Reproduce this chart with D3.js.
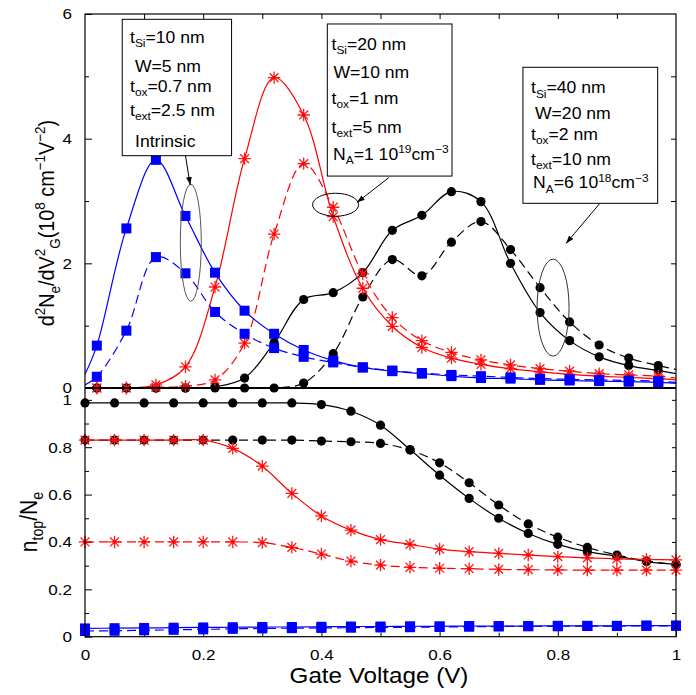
<!DOCTYPE html>
<html><head><meta charset="utf-8">
<script src="https://cdn.jsdelivr.net/npm/d3@7"></script>
<style>body{margin:0;background:#fff}svg{display:block}text{font-family:"Liberation Sans",Arial,Helvetica,sans-serif;fill:#000}</style>
</head><body><svg id="c" width="696" height="695"></svg>
<script>
// ---- data ----
const xTop = [0.02,0.07,0.12,0.17,0.22,0.27,0.32,0.37,0.42,0.47,0.52,0.57,0.62,0.67,0.72,0.77,0.82,0.87,0.92,0.97];
const xBottom = [0,0.05,0.1,0.15,0.2,0.25,0.3,0.35,0.4,0.45,0.5,0.55,0.6,0.65,0.7,0.75,0.8,0.85,0.9,0.95,1];

const topBlueSolid  = [0.68,2.56,3.66,2.76,1.85,1.24,0.87,0.61,0.44,0.33,0.27,0.23,0.19,0.16,0.15,0.13,0.12,0.11,0.10,0.09];
const topBlueDashed = [0.18,0.92,2.10,1.84,1.22,0.87,0.64,0.50,0.41,0.33,0.28,0.24,0.21,0.19,0.17,0.15,0.14,0.13,0.12,0.11];
const topRedSolid   = [0,0,0.05,0.34,1.62,3.68,4.98,4.38,2.75,1.60,0.99,0.65,0.48,0.38,0.31,0.26,0.22,0.19,0.17,0.15];
const topRedDashed  = [0,0,0.01,0.03,0.13,0.72,2.47,3.60,2.90,1.83,1.13,0.76,0.57,0.45,0.37,0.31,0.27,0.23,0.21,0.19];
const topBlackSolid = [0,0,0,0,0.02,0.16,0.73,1.42,1.53,1.85,2.53,2.77,3.15,2.99,2.00,1.21,0.76,0.50,0.36,0.28];
const topBlackDashed= [0,0,0,0,0,0,0,0.08,0.55,1.46,2.06,1.80,2.34,2.67,2.22,1.61,1.06,0.69,0.48,0.36];
// curve values at the panel edges (x=0, x=1) for the top-panel curves
const topEdgeAt0 = [0.22,0.05,0,0,0,0];
const topEdgeAt1 = [0.075,0.09,0.13,0.16,0.23,0.30];

const botBlueSolid  = [0.035,0.036,0.037,0.038,0.039,0.040,0.041,0.041,0.042,0.043,0.043,0.044,0.044,0.045,0.045,0.045,0.046,0.046,0.046,0.047,0.047];
const botBlueDashed = [0.024,0.025,0.027,0.029,0.031,0.033,0.035,0.036,0.037,0.038,0.039,0.040,0.041,0.042,0.043,0.044,0.044,0.045,0.045,0.046,0.046];
const botRedSolid   = [0.83,0.83,0.83,0.83,0.83,0.795,0.72,0.605,0.51,0.45,0.41,0.39,0.37,0.359,0.352,0.345,0.338,0.333,0.329,0.326,0.324];
const botRedDashed  = [0.40,0.40,0.40,0.40,0.40,0.40,0.397,0.377,0.349,0.319,0.302,0.293,0.289,0.287,0.284,0.283,0.282,0.281,0.281,0.281,0.281];
const botBlackSolid = [0.987,0.987,0.987,0.987,0.987,0.987,0.987,0.987,0.98,0.952,0.893,0.79,0.682,0.584,0.50,0.436,0.39,0.359,0.34,0.317,0.305];
const botBlackDashed= [0.83,0.83,0.83,0.83,0.83,0.83,0.83,0.83,0.826,0.823,0.816,0.788,0.734,0.65,0.556,0.476,0.42,0.377,0.345,0.32,0.305];

const topYTicks = [0,2,4,6];
const botYTicks = [0,0.2,0.4,0.6,0.8,1];
const xTicks = [0,0.2,0.4,0.6,0.8,1];

// ---- setup ----
const svg = d3.select('#c');
const SX = 1.1;
const L = 85, R = 676, T = 14, MID = 388, B = 636.7;
const x = d3.scaleLinear([0,1],[L,R]);
const yTop = d3.scaleLinear([0,6],[MID,T]);
const yBot = d3.scaleLinear([0,1.05],[B,MID]);

const defs = svg.append('defs');
defs.append('clipPath').attr('id','clipTop').append('rect').attr('x',L).attr('y',T).attr('width',R-L).attr('height',MID-T);
defs.append('clipPath').attr('id','clipBot').append('rect').attr('x',L).attr('y',MID).attr('width',R-L).attr('height',B-MID);
defs.append('marker').attr('id','arr').attr('viewBox','0 0 10 10').attr('refX',10).attr('refY',5)
  .attr('markerWidth',8).attr('markerHeight',8).attr('markerUnits','userSpaceOnUse').attr('orient','auto')
  .append('path').attr('d','M0,1.5L10,5L0,8.5Z').attr('fill','#000');

const colors = {blue:'#0000ff', red:'#ff0000', black:'#000000'};
const curve = d3.curveCatmullRom.alpha(0.5);

// ---- axes ----
function ax(axis, tr){
  const g = svg.append('g').attr('transform',tr).call(axis);
  g.select('.domain').remove();
  g.selectAll('line').attr('stroke','#000').attr('stroke-width',1);
  g.selectAll('text').attr('font-size',15.5).attr('font-family','"Liberation Sans",Arial,sans-serif').attr('fill','#000');
  return g;
}
const fmt = d => String(d);
const gl1 = ax(d3.axisLeft(yTop).tickValues(topYTicks).tickSize(-7).tickPadding(13).tickFormat(fmt), `translate(${L},0)`);
ax(d3.axisLeft(yTop).tickValues([1,3,5]).tickSize(-4).tickFormat(''), `translate(${L},0)`);
ax(d3.axisRight(yTop).tickValues([1,2,3,4,5]).tickSize(-5).tickFormat(''), `translate(${R},0)`);
ax(d3.axisTop(x).tickValues([0.1,0.2,0.3,0.4,0.5,0.6,0.7,0.8,0.9]).tickSize(-5).tickFormat(''), `translate(0,${T})`);
const gl2 = ax(d3.axisLeft(yBot).tickValues(botYTicks).tickSize(-7).tickPadding(13).tickFormat(fmt), `translate(${L},0)`);
ax(d3.axisLeft(yBot).tickValues([0.1,0.3,0.5,0.7,0.9]).tickSize(-4).tickFormat(''), `translate(${L},0)`);
ax(d3.axisRight(yBot).tickValues([0.1,0.2,0.3,0.4,0.5,0.6,0.7,0.8,0.9,1.0]).tickSize(-4).tickFormat(''), `translate(${R},0)`);
const gb = ax(d3.axisBottom(x).tickValues(xTicks).tickSize(-6).tickPadding(12).tickFormat(fmt), `translate(0,${B})`);
ax(d3.axisBottom(x).tickValues([0.1,0.3,0.5,0.7,0.9]).tickSize(-4).tickFormat(''), `translate(0,${B})`);
[gl1,gl2].forEach(g => g.selectAll('text').attr('x',-13/SX).attr('transform',`scale(${SX},1)`));
gb.selectAll('text').attr('transform',`scale(${SX},1)`);

// ---- series ----
function drawSeries(xs, vals, yS, color, dashed, clip, edges){
  let pts = xs.map((d,i)=>[d, vals[i]]);
  if (edges) pts = [[0,edges[0]], ...pts, [1,edges[1]]];
  svg.append('path').datum(pts)
    .attr('clip-path',`url(#${clip})`)
    .attr('fill','none').attr('stroke',color).attr('stroke-width',1.2)
    .attr('stroke-dasharray', dashed ? '9,5' : null)
    .attr('d', d3.line().x(d=>x(d[0])).y(d=>yS(d[1])).curve(curve));
}
function drawMarkers(xs, vals, yS, kind){
  const g = svg.append('g');
  const pts = xs.map((d,i)=>[x(d), yS(vals[i])]);
  if (kind==='circle'){
    g.selectAll('circle').data(pts).join('circle').attr('cx',d=>d[0]).attr('cy',d=>d[1]).attr('r',4.6).attr('fill','#000');
  } else if (kind==='square'){
    g.selectAll('rect').data(pts).join('rect').attr('x',d=>d[0]-5).attr('y',d=>d[1]-5).attr('width',10).attr('height',10).attr('fill','#0000ff');
  } else {
    const s = 6.2, s2 = 4.4;
    g.selectAll('path').data(pts).join('path')
      .attr('d',d=>`M${d[0]-s},${d[1]}H${d[0]+s}M${d[0]},${d[1]-s}V${d[1]+s}M${d[0]-s2},${d[1]-s2}L${d[0]+s2},${d[1]+s2}M${d[0]-s2},${d[1]+s2}L${d[0]+s2},${d[1]-s2}`)
      .attr('stroke','#ff1a1a').attr('stroke-width',1.3).attr('fill','none');
    g.selectAll('circle').data(pts).join('circle').attr('cx',d=>d[0]).attr('cy',d=>d[1]).attr('r',1.6).attr('fill','#ff0000');
  }
}

const topSeries = [
  [topBlueSolid,'blue',false,'square',0],[topBlueDashed,'blue',true,'square',1],
  [topRedSolid,'red',false,'star',2],[topRedDashed,'red',true,'star',3],
  [topBlackSolid,'black',false,'circle',4],[topBlackDashed,'black',true,'circle',5]];
const botSeries = [
  [botBlueSolid,'blue',false,'square'],[botBlueDashed,'blue',true,'square'],
  [botRedSolid,'red',false,'star'],[botRedDashed,'red',true,'star'],
  [botBlackSolid,'black',false,'circle'],[botBlackDashed,'black',true,'circle']];

const order = ['black','red','blue'];
order.forEach(c=>{
  topSeries.filter(s=>s[1]===c).forEach(s=>drawSeries(xTop,s[0],yTop,colors[c],s[2],'clipTop',[topEdgeAt0[s[4]],topEdgeAt1[s[4]]]));
  topSeries.filter(s=>s[1]===c).forEach(s=>drawMarkers(xTop,s[0],yTop,s[3]));
  botSeries.filter(s=>s[1]===c).forEach(s=>drawSeries(xBottom,s[0],yBot,colors[c],s[2],'clipBot',null));
  botSeries.filter(s=>s[1]===c).forEach(s=>drawMarkers(xBottom,s[0],yBot,s[3]));
});

// ---- frame ----
svg.append('rect').attr('x',L).attr('y',T).attr('width',R-L).attr('height',B-T).attr('fill','none').attr('stroke','#000').attr('stroke-width',1.2);
svg.append('line').attr('x1',L).attr('x2',R).attr('y1',MID).attr('y2',MID).attr('stroke','#000').attr('stroke-width',2);

// ---- rich text helper ----
function rich(px, py, parts, size, rotate){
  const g = svg.append('g').attr('transform',`translate(${px},${py}) scale(${SX},1)` + (rotate?' rotate(-90)':''));
  const t = g.append('text').attr('font-size',size).attr('text-anchor', rotate ? 'middle' : 'start');
  let cur = 0;
  parts.forEach(([s,k])=>{
    const target = k==='sub' ? size*0.28 : k==='sup' ? -size*0.42 : 0;
    t.append('tspan').attr('dy', target-cur).attr('font-size', k ? size*0.68 : size).text(s);
    cur = target;
  });
  return t;
}

// ---- annotation boxes ----
const boxes = [[0.063,0.248,5.915,3.727],[0.41,0.621,5.84,3.40],[0.741,0.969,5.145,2.963]];
boxes.forEach(b=>{
  svg.append('rect').attr('x',x(b[0])).attr('y',yTop(b[2])).attr('width',x(b[1])-x(b[0])).attr('height',yTop(b[3])-yTop(b[2]))
    .attr('fill','#fff').attr('stroke','#000').attr('stroke-width',1);
});
const fs = 16;
// box 1
rich(130,43,[['t',''],['Si','sub'],['=10 nm','']],fs);
rich(135,72,[['W=5 nm','']],fs);
rich(130,91.5,[['t',''],['ox','sub'],['=0.7 nm','']],fs);
rich(130,116,[['t',''],['ext','sub'],['=2.5 nm','']],fs);
rich(135,146.5,[['Intrinsic','']],fs);
// box 2
rich(331.5,49.5,[['t',''],['Si','sub'],['=20 nm','']],fs);
rich(333.5,77.5,[['W=10 nm','']],fs);
rich(331.5,103.5,[['t',''],['ox','sub'],['=1 nm','']],fs);
rich(331.5,132.5,[['t',''],['ext','sub'],['=5 nm','']],fs);
rich(333,159.5,[['N',''],['A','sub'],['=1 10',''],['19','sup'],['cm',''],['\u22123','sup']],fs);
// box 3
rich(531,93.3,[['t',''],['Si','sub'],['=40 nm','']],fs);
rich(535,119,[['W=20 nm','']],fs);
rich(531,140,[['t',''],['ox','sub'],['=2 nm','']],fs);
rich(531,165,[['t',''],['ext','sub'],['=10 nm','']],fs);
rich(533,188.3,[['N',''],['A','sub'],['=6 10',''],['18','sup'],['cm',''],['\u22123','sup']],fs);

// ---- ellipses & arrows ----
const ellipses = [[0.179,2.33,10.5,58.5,'#555'],[0.424,2.94,23,11.5,'#000'],[0.792,1.29,16,48.5,'#333']];
ellipses.forEach(e=>svg.append('ellipse').attr('cx',x(e[0])).attr('cy',yTop(e[1])).attr('rx',e[2]).attr('ry',e[3])
  .attr('fill','none').attr('stroke',e[4]).attr('stroke-width',1));
const arrows = [[0.170,3.727,0.178,3.257],[0.514,3.374,0.460,2.976],[0.871,2.96,0.814,2.32]];
arrows.forEach(a=>svg.append('line').attr('x1',x(a[0])).attr('y1',yTop(a[1])).attr('x2',x(a[2])).attr('y2',yTop(a[3]))
  .attr('stroke','#000').attr('stroke-width',1).attr('marker-end','url(#arr)'));

// ---- axis titles ----
rich(379,683,[['Gate Voltage (V)','']],22).attr('text-anchor','middle');
rich(54,223,[['d',''],['2','sup'],['N',''],['e','sub'],['/dV',''],['2','sup'],['G','sub'],['(10',''],['8','sup'],[' cm',''],['\u22121','sup'],['V',''],['\u22122','sup'],[')','']],19.8,true);
rich(37,522,[['n',''],['top','sub'],['/N',''],['e','sub']],21,true);
</script></body></html>
